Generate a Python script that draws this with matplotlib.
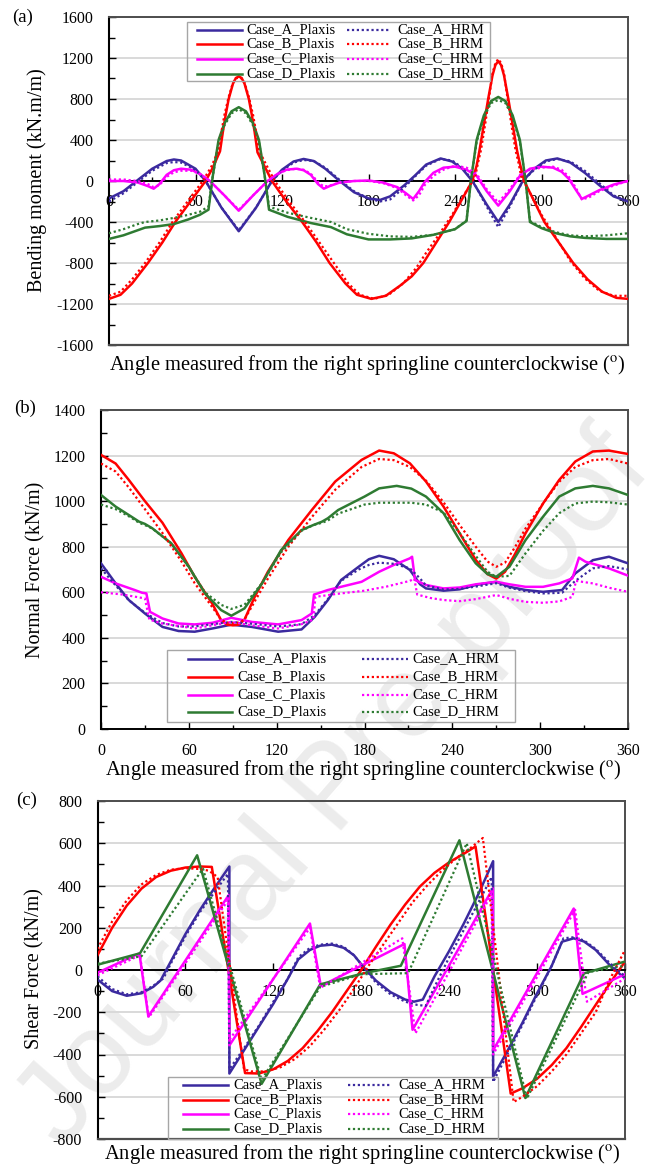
import matplotlib
matplotlib.use("Agg")
import matplotlib.pyplot as plt
from matplotlib.ticker import MultipleLocator
from matplotlib.lines import Line2D
from matplotlib.patches import Rectangle

plt.rcParams['font.family'] = ['Liberation Serif', 'DejaVu Serif']
plt.rcParams['mathtext.fontset'] = 'stix'
plt.rcParams['axes.unicode_minus'] = False

COL_A = '#3B2A9F'
COL_B = '#FF0000'
COL_C = '#FF00FF'
COL_D = '#2E7B32'

# ---------------- (a) Bending moment (kN.m/m) ----------------
bm_ang_A = [0, 10, 20, 30, 40, 45, 50, 60, 67, 78, 90, 102, 113, 120, 128, 135, 142, 150, 160, 170,
            180, 188, 195, 205, 212, 220, 230, 238, 245, 252, 262, 270, 278, 287, 295, 303, 311, 320,
            330, 340, 350, 360]
bm_A_plaxis = [-170, -100, 10, 120, 195, 210, 200, 120, 0, -260, -490, -260, 0, 110, 190, 215, 195, 120,
               0, -110, -170, -185, -150, -40, 50, 160, 220, 190, 120, 0, -230, -400, -230, 0, 120, 200,
               220, 180, 80, -40, -150, -200]
bm_A_hrm = [-200, -120, -10, 100, 175, 185, 180, 110, 0, -260, -480, -260, 0, 100, 180, 205, 195, 130,
            10, -100, -170, -200, -180, -60, 40, 150, 215, 200, 130, 10, -250, -450, -250, 0, 110, 190,
            215, 190, 100, -20, -140, -200]

bm_ang_B_plaxis = [0, 8, 16, 27, 37, 46, 57, 67, 72, 77, 79, 81, 83, 86, 88, 90, 92, 94, 97, 99,
                   101, 103, 108, 113, 123, 134, 144, 153, 164, 172, 182, 192, 202, 210, 218, 227, 236,
                   244, 252, 255, 257, 260, 263, 266, 268, 270, 272, 274, 277, 280, 283, 285, 288, 295,
                   302, 312, 322, 332, 342, 352, 360]
bm_B_plaxis = [-1150, -1110, -1000, -800, -600, -400, -190, 0, 130, 290, 480, 650, 800, 950, 1005, 1020,
               1005, 950, 800, 650, 480, 280, 140, 0, -200, -400, -600, -800, -1000, -1110, -1150,
               -1120, -1020, -930, -800, -600, -400, -200, 0, 150, 300, 550, 800, 1030, 1130, 1170,
               1130, 1030, 800, 550, 300, 170, 0, -200, -400, -600, -800, -960, -1080, -1140, -1150]
bm_ang_B_hrm = [0, 8, 16, 25, 35, 44, 55, 65, 71, 76, 78, 80, 83, 86, 88, 90, 92, 94, 97, 100,
                102, 104, 109, 115, 125, 136, 146, 156, 166, 174, 184, 194, 204, 213, 220, 229, 238,
                246, 254, 256, 258, 261, 264, 266, 268, 270, 272, 274, 276, 279, 282, 284, 286, 293,
                300, 310, 320, 330, 340, 350, 360]
bm_B_hrm = [-1120, -1080, -960, -800, -600, -400, -190, 0, 140, 300, 480, 640, 820, 960, 1000, 1010,
            1000, 960, 820, 640, 480, 300, 160, 0, -200, -400, -600, -800, -1000, -1110, -1150, -1110,
            -1000, -850, -700, -520, -330, -140, 40, 180, 300, 560, 850, 1050, 1150, 1190, 1150, 1050,
            850, 560, 300, 180, 40, -140, -330, -550, -780, -950, -1070, -1120, -1120]

bm_ang_C = [0, 10, 20, 27, 31, 35, 40, 45, 50, 57, 63, 70, 80, 90, 100, 110, 117, 123, 130, 135,
            140, 145, 149, 153, 160, 170, 180, 190, 200, 206, 211, 215, 219, 225, 232, 240, 248, 255,
            262, 270, 278, 285, 292, 300, 308, 314, 319, 324, 328, 333, 340, 350, 360]
bm_C_plaxis = [0, 0, -15, -50, -75, -30, 60, 105, 120, 110, 70, 0, -140, -290, -140, 0, 70, 110, 120, 105,
               60, -30, -75, -50, -15, 0, 5, -15, -60, -120, -175, -100, -10, 80, 130, 140, 110, 50,
               -100, -240, -100, 50, 120, 140, 130, 90, 20, -90, -175, -140, -90, -35, 0]
bm_C_hrm = [15, 15, 0, -30, -60, -40, 40, 85, 100, 100, 70, 0, -140, -280, -140, 0, 70, 105, 120, 110,
            70, -10, -55, -45, -15, 0, 0, -20, -70, -140, -190, -140, -40, 50, 110, 150, 130, 70,
            -80, -210, -80, 60, 110, 130, 140, 110, 40, -70, -180, -160, -100, -45, 0]

bm_ang_D = [0, 10, 20, 25, 35, 45, 55, 63, 69, 72, 76, 80, 85, 90, 95, 100, 104, 108, 111, 124,
            140, 154, 165, 180, 195, 210, 225, 240, 248, 251, 255, 260, 265, 270, 275, 280, 285, 289,
            292, 300, 310, 320, 330, 345, 360]
bm_D_plaxis = [-565, -530, -480, -455, -440, -420, -375, -330, -280, 50, 400, 560, 680, 720, 680, 560,
               400, 50, -280, -350, -410, -450, -520, -570, -570, -560, -525, -470, -390, 0, 400, 640,
               780, 820, 780, 640, 400, 0, -400, -460, -510, -540, -555, -565, -565]
bm_D_hrm = [-510, -470, -420, -400, -385, -360, -330, -300, -250, 50, 380, 540, 660, 700, 660, 540,
            380, 50, -250, -310, -360, -400, -470, -515, -540, -545, -525, -470, -385, 0, 380, 620,
            760, 790, 760, 620, 380, 0, -390, -450, -500, -530, -540, -530, -510]

# ---------------- (b) Normal force (kN/m) ----------------
nf_ang_A = [0, 10, 19, 30, 42, 53, 64, 76, 89, 103, 121, 137, 146, 155, 164, 176, 183, 190, 200, 211,
            218, 222, 234, 245, 256, 270, 279, 290, 302, 315, 324, 336, 347, 360]
nf_A_plaxis = [727, 639, 566, 507, 448, 430, 427, 441, 458, 448, 427, 437, 492, 566, 654, 712, 745, 760,
               745, 698, 635, 617, 607, 613, 632, 646, 624, 610, 602, 610, 683, 741, 756, 727]
nf_A_hrm = [705, 630, 565, 510, 465, 450, 450, 460, 470, 462, 450, 460, 500, 570, 650, 700, 720, 730,
            725, 705, 660, 630, 612, 615, 625, 640, 620, 605, 595, 598, 650, 705, 715, 700]

nf_ang_B = [0, 10, 19, 30, 42, 55, 64, 76, 82, 86, 90, 94, 98, 105, 114, 128, 144, 160, 178, 190,
            200, 211, 222, 234, 245, 256, 264, 270, 276, 283, 290, 302, 313, 324, 336, 347, 360]
nf_B_plaxis = [1203, 1165, 1093, 1000, 905, 771, 668, 550, 478, 458, 455, 458, 480, 580, 690, 830, 961,
               1086, 1181, 1222, 1210, 1166, 1086, 976, 859, 742, 680, 660, 690, 770, 859, 990, 1093,
               1174, 1218, 1222, 1207]
nf_B_hrm = [1165, 1130, 1060, 965, 860, 735, 640, 535, 480, 467, 465, 467, 480, 560, 660, 800, 930,
            1050, 1150, 1185, 1180, 1150, 1090, 995, 895, 800, 735, 712, 730, 800, 880, 990, 1085,
            1150, 1180, 1185, 1165]

nf_ang_C_plaxis = [0, 10, 23, 28, 31, 33.5, 42, 53, 64, 76, 89, 103, 121, 137, 144, 145.5, 148, 155,
                   178, 190, 200, 211, 212.5, 214.5, 222, 234, 245, 256, 270, 279, 290, 302, 313, 322,
                   326.5, 331, 347, 360]
nf_C_plaxis = [668, 639, 610, 598, 595, 514, 485, 463, 459, 466, 488, 470, 459, 478, 507, 590, 595, 610,
               646, 690, 720, 749, 756, 654, 632, 617, 621, 635, 646, 635, 624, 624, 639, 661, 752, 734,
               705, 673]
nf_ang_C_hrm = [0, 15, 30, 33, 42, 64, 89, 103, 121, 137, 145, 146.5, 160, 180, 195, 211, 214, 216,
                225, 234, 245, 256, 270, 280, 290, 302, 313, 322, 324.5, 336, 347, 360]
nf_C_hrm = [600, 590, 573, 480, 463, 441, 470, 455, 441, 460, 480, 580, 592, 607, 625, 650, 660, 590,
            575, 566, 561, 570, 588, 570, 558, 554, 560, 580, 650, 639, 620, 602]

nf_ang_D = [0, 10, 20, 26, 30, 35, 48, 60, 71, 82, 89, 98, 110, 123, 137, 145, 151, 155, 162, 180,
            190, 202, 212, 222, 234, 245, 256, 264, 270, 279, 290, 302, 313, 324, 336, 347, 360]
nf_D_plaxis = [1027, 976, 935, 910, 900, 881, 815, 712, 595, 522, 497, 529, 639, 785, 873, 895, 910,
               925, 961, 1020, 1056, 1067, 1055, 1020, 947, 829, 727, 680, 668, 712, 829, 932, 1020,
               1056, 1067, 1056, 1027]
nf_D_hrm = [985, 965, 930, 905, 895, 880, 815, 710, 600, 545, 527, 545, 640, 775, 870, 895, 905, 915,
            945, 985, 993, 993, 993, 985, 950, 860, 760, 690, 668, 672, 771, 870, 947, 990, 998, 995,
            985]

# ---------------- (c) Shear force (kN/m) ----------------
sf_ang_A_plaxis = [0, 10, 20, 30, 38, 43, 50, 60, 70, 80, 90, 90, 100, 110, 120, 130, 137, 145, 152,
                   160, 168, 175, 182, 190, 200, 210, 216, 222, 230, 240, 250, 260, 270, 270, 280, 290,
                   300, 310, 317, 325, 332, 340, 350, 360]
sf_A_plaxis = [-45, -100, -122, -110, -80, -50, 40, 170, 285, 390, 490, -490, -380, -270, -160, -40, 50,
               95, 115, 120, 105, 70, 10, -50, -105, -140, -150, -140, -30, 90, 220, 360, 515, -505,
               -380, -250, -110, 20, 134, 150, 135, 95, 20, -40]
sf_ang_A_hrm = [0, 10, 20, 30, 38, 45, 50, 60, 70, 80, 89, 90, 100, 110, 120, 130, 137, 145, 152, 160,
                168, 175, 182, 190, 200, 210, 218, 224, 230, 240, 250, 260, 269, 270, 280, 290, 300,
                310, 318, 325, 332, 340, 350, 360]
sf_A_hrm = [-30, -90, -115, -105, -75, -40, 30, 160, 275, 370, 455, -470, -370, -265, -150, -40, 60, 105,
            120, 125, 110, 70, 10, -60, -115, -150, -165, -170, -80, 60, 190, 320, 440, -530, -395,
            -260, -120, 20, 150, 155, 140, 100, 30, -30]

sf_ang_B_plaxis = [0, 10, 20, 30, 40, 50, 60, 70, 78, 100.7, 110, 120, 130, 140, 150, 160, 170, 180,
                   190, 200, 210, 220, 230, 240, 250, 258, 282, 290, 300, 310, 320, 330, 340, 350, 360]
sf_B_plaxis = [70, 200, 305, 385, 440, 470, 485, 490, 488, -488, -490, -470, -430, -370, -290, -200,
               -100, 0, 110, 215, 310, 395, 460, 510, 550, 585, -585, -560, -515, -450, -370, -270,
               -165, -60, 40]
sf_ang_B_hrm = [0, 10, 20, 30, 40, 50, 60, 70, 76, 82, 100, 105, 115, 125, 135, 145, 155, 165, 175,
                185, 195, 205, 215, 225, 235, 245, 255, 263, 284, 290, 300, 310, 320, 330, 340, 350, 360]
sf_B_hrm = [100, 230, 330, 405, 450, 475, 482, 478, 470, 440, -470, -480, -480, -460, -420, -360, -280,
            -190, -90, 20, 120, 220, 320, 400, 470, 530, 580, 625, -625, -600, -550, -480, -400, -300,
            -200, -40, 95]

sf_ang_C_plaxis = [0, 28.6, 34.7, 89.5, 90, 145, 152.4, 209.5, 215, 269.8, 270, 325, 331, 360]
sf_C_plaxis = [-13, 79, -220, 354, -357, 220, -76, 123, -283, 386, -380, 291, -113, -20]
sf_ang_C_hrm = [0, 29, 35, 89, 90, 145, 152, 208, 217, 269, 270, 326, 334, 360]
sf_C_hrm = [-25, 70, -225, 330, -330, 200, -85, 150, -300, 360, -400, 285, -150, -40]

sf_ang_D_plaxis = [0, 29, 68, 112, 152, 182, 207, 247, 292, 332, 360]
sf_D_plaxis = [25, 79, 543, -539, -68, -15, 20, 614, -606, -16, 40]
sf_ang_D_hrm = [0, 30, 72, 112, 152, 180, 212, 252, 293, 335, 360]
sf_D_hrm = [30, 65, 480, -520, -80, -20, -15, 600, -610, -10, 20]

case_colors = [COL_A, COL_B, COL_C, COL_D]
plaxis_labels = ['Case_A_Plaxis', 'Case_B_Plaxis', 'Case_C_Plaxis', 'Case_D_Plaxis']
plaxis_labels_c = ['Case_A_Plaxis', 'Cace_B_Plaxis', 'Case_C_Plaxis', 'Case_D_Plaxis']
hrm_labels = ['Case_A_HRM', 'Case_B_HRM', 'Case_C_HRM', 'Case_D_HRM']

PLAXIS_STYLE = dict(lw=1.8, ls='-')
HRM_STYLE = dict(lw=1.6, ls=(0, (1, 1.2)))

W, H = 645, 1168
fig = plt.figure(figsize=(W / 100, H / 100), dpi=100)


def fx(x):
    return x / W


def fy(y):
    return 1 - y / H


def axes_px(left, top, right, bottom):
    return fig.add_axes([fx(left), fy(bottom), (right - left) / W, (bottom - top) / H])


def style_axes(ax, ylim, ymajor, yminor, zero_axis, xpad):
    ax.set_xlim(0, 360)
    ax.set_ylim(*ylim)
    ax.xaxis.set_major_locator(MultipleLocator(60))
    ax.xaxis.set_minor_locator(MultipleLocator(30))
    ax.yaxis.set_major_locator(MultipleLocator(ymajor))
    ax.yaxis.set_minor_locator(MultipleLocator(yminor))
    ax.set_facecolor('none')
    ax.set_axisbelow(True)
    ax.yaxis.grid(True, which='major', color='#d9d9d9', lw=1.4)
    ax.tick_params(which='both', direction='in', labelsize=11.5, colors='black')
    ax.tick_params(axis='y', which='major', length=5, width=1.0, pad=11)
    ax.tick_params(axis='y', which='minor', length=4, width=1.0)
    ax.tick_params(axis='x', which='major', length=5, width=1.0, pad=xpad)
    ax.tick_params(axis='x', which='minor', length=3, width=1.0)
    for s in ('top', 'right'):
        ax.spines[s].set_color('#4d4d4d')
        ax.spines[s].set_linewidth(1.4)
    ax.spines['left'].set_color('black')
    ax.spines['left'].set_linewidth(1.5)
    ax.spines['bottom'].set_linewidth(1.4)
    ax.spines['bottom'].set_color('black')
    if zero_axis:
        ax.spines['bottom'].set_position(('data', 0))
        ax.axhline(ylim[0], color='#4d4d4d', lw=1.6, clip_on=False, zorder=3)


def draw_panel(ax, plaxis_series, hrm_series):
    for (ang, vals), col in zip(plaxis_series, case_colors):
        ax.plot(ang, vals, color=col, zorder=4, **PLAXIS_STYLE)
    for (ang, vals), col in zip(hrm_series, case_colors):
        ax.plot(ang, vals, color=col, zorder=4, **HRM_STYLE)


def draw_key(box, rows, p_line, p_text, h_line, h_text, labels_p):
    """Two-column key (Plaxis | HRM) laid out in figure pixels."""
    x0, y0, x1, y1 = box
    fig.add_artist(Rectangle((fx(x0), fy(y1)), (x1 - x0) / W, (y1 - y0) / H,
                             transform=fig.transFigure, fill=False, ec='#a6a6a6', lw=1.0,
                             zorder=6))
    for y, col, lp, lh in zip(rows, case_colors, labels_p, hrm_labels):
        fig.add_artist(Line2D([fx(p_line[0]), fx(p_line[1])], [fy(y), fy(y)],
                              transform=fig.transFigure, color=col, zorder=7, **PLAXIS_STYLE))
        fig.add_artist(Line2D([fx(h_line[0]), fx(h_line[1])], [fy(y), fy(y)],
                              transform=fig.transFigure, color=col, zorder=7, **HRM_STYLE))
        fig.text(fx(p_text), fy(y), lp, ha='left', va='center', fontsize=10.5, zorder=7)
        fig.text(fx(h_text), fy(y), lh, ha='left', va='center', fontsize=10.5, zorder=7)


# Panel (a)
ax_a = axes_px(109, 17, 628, 345)
style_axes(ax_a, (-1600, 1600), 400, 200, True, 9)
draw_panel(ax_a,
           [(bm_ang_A, bm_A_plaxis), (bm_ang_B_plaxis, bm_B_plaxis), (bm_ang_C, bm_C_plaxis),
            (bm_ang_D, bm_D_plaxis)],
           [(bm_ang_A, bm_A_hrm), (bm_ang_B_hrm, bm_B_hrm), (bm_ang_C, bm_C_hrm),
            (bm_ang_D, bm_D_hrm)])
draw_key((187, 22, 490, 81), [30, 44, 59, 74], (197, 242), 246, (347, 389), 397, plaxis_labels)

# Panel (b)
ax_b = axes_px(101, 410, 628, 729)
style_axes(ax_b, (0, 1400), 200, 100, False, 10)
draw_panel(ax_b,
           [(nf_ang_A, nf_A_plaxis), (nf_ang_B, nf_B_plaxis), (nf_ang_C_plaxis, nf_C_plaxis),
            (nf_ang_D, nf_D_plaxis)],
           [(nf_ang_A, nf_A_hrm), (nf_ang_B, nf_B_hrm), (nf_ang_C_hrm, nf_C_hrm),
            (nf_ang_D, nf_D_hrm)])
draw_key((167, 650, 515, 722), [659, 677, 695, 712], (188, 232), 237, (362, 408), 412,
         plaxis_labels)

# Panel (c)
ax_c = axes_px(97.5, 801, 625, 1139)
style_axes(ax_c, (-800, 800), 200, 100, True, 10)
draw_panel(ax_c,
           [(sf_ang_A_plaxis, sf_A_plaxis), (sf_ang_B_plaxis, sf_B_plaxis),
            (sf_ang_C_plaxis, sf_C_plaxis), (sf_ang_D_plaxis, sf_D_plaxis)],
           [(sf_ang_A_hrm, sf_A_hrm), (sf_ang_B_hrm, sf_B_hrm),
            (sf_ang_C_hrm, sf_C_hrm), (sf_ang_D_hrm, sf_D_hrm)])
draw_key((168, 1077, 498, 1139), [1085, 1100, 1114, 1129], (183, 228), 233, (348, 390), 398,
         plaxis_labels_c)

# Axis titles and panel tags
xtitle = r'Angle measured from the right springline counterclockwise ($^{\rm o}$)'
fig.text(fx(367), fy(365), xtitle, ha='center', va='center', fontsize=14.8)
fig.text(fx(363), fy(770), xtitle, ha='center', va='center', fontsize=14.8)
fig.text(fx(362), fy(1154), xtitle, ha='center', va='center', fontsize=14.8)

fig.text(fx(37), fy(180), 'Bending moment (kN.m/m)', rotation=90, ha='center', va='center',
         fontsize=14.5)
fig.text(fx(36), fy(570), 'Normal Force (kN/m)', rotation=90, ha='center', va='center',
         fontsize=14.5)
fig.text(fx(35), fy(969), 'Shear Force (kN/m)', rotation=90, ha='center', va='center',
         fontsize=14.5)

fig.text(fx(23), fy(17), '(a)', ha='center', va='center', fontsize=13.5)
fig.text(fx(25), fy(408), '(b)', ha='center', va='center', fontsize=13.5)
fig.text(fx(27), fy(800), '(c)', ha='center', va='center', fontsize=13.5)

# Watermark
fig.text(fx(335), fy(790), 'Journal Pre-proof', rotation=49, ha='center', va='center',
         fontsize=84, color='#ececec', family='Liberation Sans', zorder=-5)

fig.savefig('out.png', dpi=100)
